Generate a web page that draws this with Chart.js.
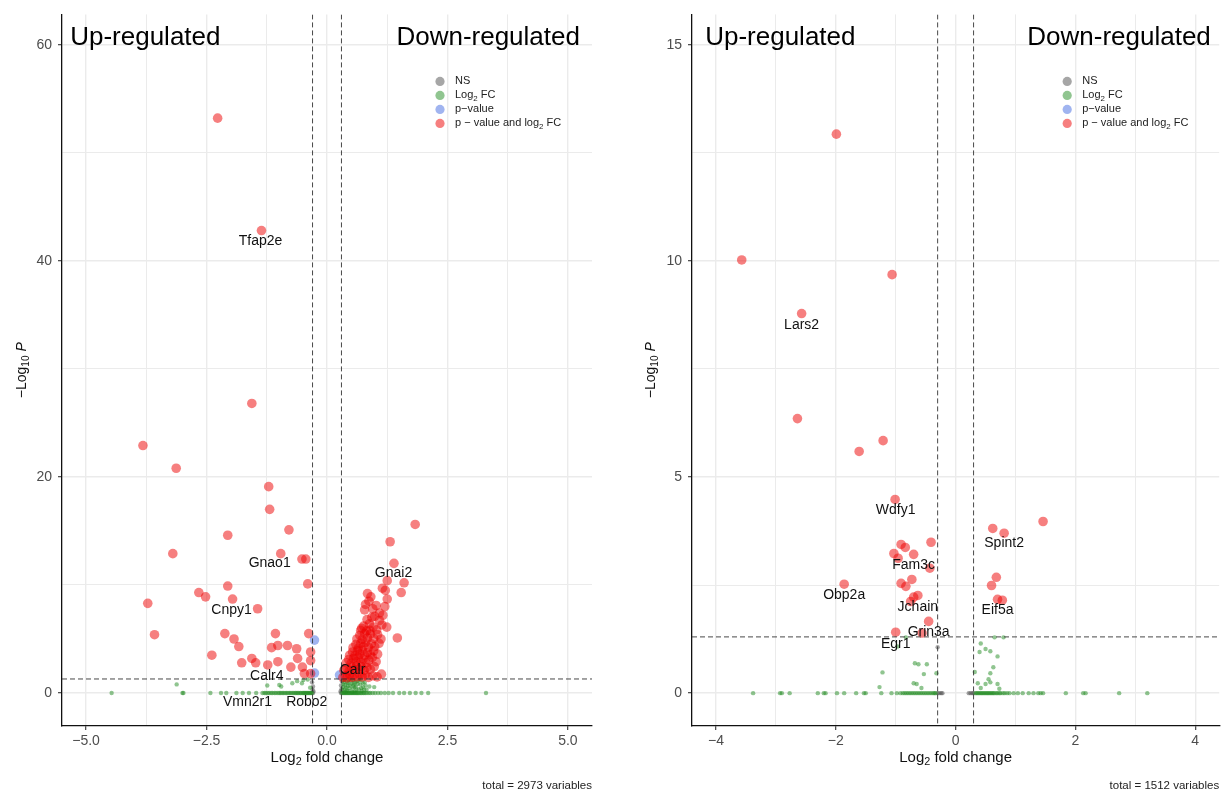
<!DOCTYPE html>
<html>
<head>
<meta charset="utf-8">
<title>Volcano plots</title>
<script src="https://cdn.jsdelivr.net/npm/chart.js@4.4.0/dist/chart.umd.min.js"></script>
<style>
  html, body { margin: 0; padding: 0; background: #fff; }
  #wrap { position: relative; width: 1224px; height: 792px; }
  canvas { position: absolute; top: 0; width: 612px; height: 792px; }
  #left { left: 0; }
  #right { left: 612px; }
</style>
</head>
<body>
<div id="wrap">
  <canvas id="left" width="612" height="792"></canvas>
  <canvas id="right" width="612" height="792"></canvas>
</div>
<script>
const FONT = '"Liberation Sans", Arial, Helvetica, sans-serif';

// EnhancedVolcano colours (grey30, forestgreen, royalblue, red2), alpha 0.5
const COLORS = {
    ns: 'rgba(77,77,77,0.5)',
    fc: 'rgba(34,139,34,0.5)',
    p: 'rgba(65,105,225,0.5)',
    both: 'rgba(238,0,0,0.5)'
};

// legend entries: plain strings or [text, 'sub']
const legendNames = [
    ['NS'],
    ['Log', ['2', 'sub'], ' FC'],
    ['p\u2212value'],
    ['p \u2212 value and log', ['2', 'sub'], ' FC']
];

// ---------- left panel: [log2 FC, -log10 P] ----------
const leftBoth = [
    [-2.27, 53.2], [-1.36, 42.8], [-1.56, 26.8], [-3.82, 22.9], [-3.13, 20.8], [-1.21, 19.1],
    [-1.19, 17.0], [-0.79, 15.1], [-2.06, 14.6], [-3.20, 12.9], [-0.96, 12.9], [-0.52, 12.4],
    [-0.44, 12.4], [-0.40, 10.1], [-2.66, 9.3], [-2.52, 8.9], [-2.06, 9.9], [-1.96, 8.7],
    [-3.72, 8.3], [-1.44, 7.8], [-3.58, 5.4], [-2.12, 5.5], [-1.93, 5.0], [-1.83, 4.3],
    [-2.39, 3.5], [-1.77, 2.8], [-1.56, 3.2], [-1.48, 2.8], [-1.23, 2.6], [-1.07, 5.5],
    [-1.15, 4.2], [-1.02, 4.4], [-0.82, 4.4], [-0.63, 4.1], [-0.38, 5.5], [-0.34, 3.8],
    [-0.61, 3.2], [-0.34, 3.0], [-0.51, 2.4], [-0.75, 2.4], [-1.02, 2.9], [-0.47, 1.8],
    [-0.34, 1.8],
    [1.83, 15.6], [1.31, 14.0], [1.39, 12.0], [1.25, 10.4], [1.60, 10.2], [1.15, 9.7],
    [1.21, 9.5], [1.25, 8.7], [1.54, 9.3], [0.84, 9.2], [0.91, 8.9], [0.80, 8.2], [0.95, 7.8],
    [0.78, 7.7], [1.09, 7.4], [1.16, 7.2], [0.93, 7.0], [1.09, 6.7], [1.24, 6.1], [0.72, 6.0],
    [0.89, 5.8], [1.46, 5.1], [1.13, 1.75],
    [0.33, 1.45], [0.38, 1.6], [0.42, 1.4], [0.47, 1.7], [0.52, 1.45], [0.57, 1.65], [0.62, 1.5],
    [0.68, 1.75], [0.73, 1.5], [0.79, 1.65], [0.86, 1.45], [0.95, 1.6], [1.04, 1.5],
    [0.35, 2.1], [0.41, 2.3], [0.46, 2.05], [0.51, 2.4], [0.56, 2.15], [0.61, 2.5], [0.66, 2.2],
    [0.71, 2.45], [0.77, 2.1], [0.83, 2.35], [0.90, 2.2], [0.98, 2.45],
    [0.40, 2.8], [0.45, 3.1], [0.50, 2.75], [0.55, 3.2], [0.60, 2.9], [0.65, 3.25], [0.70, 2.85],
    [0.75, 3.15], [0.81, 2.8], [0.87, 3.05], [0.94, 3.3], [1.02, 2.9],
    [0.47, 3.5], [0.53, 3.8], [0.58, 3.45], [0.63, 3.9], [0.68, 3.6], [0.73, 3.95], [0.78, 3.5],
    [0.84, 3.75], [0.90, 3.55], [0.97, 3.9], [1.05, 3.6],
    [0.54, 4.2], [0.60, 4.5], [0.65, 4.15], [0.70, 4.6], [0.75, 4.3], [0.80, 4.7], [0.86, 4.25],
    [0.92, 4.55], [0.99, 4.3], [1.08, 4.6],
    [0.62, 5.0], [0.68, 5.35], [0.73, 4.95], [0.78, 5.5], [0.84, 5.1], [0.90, 5.45], [0.97, 5.05],
    [1.05, 5.4], [1.12, 5.0],
    [0.70, 5.8], [0.76, 6.2], [0.82, 5.75], [0.88, 6.4], [0.96, 6.1], [1.03, 5.85], [1.14, 6.3],
    [0.83, 6.8], [0.99, 7.1], [1.02, 8.1], [1.20, 8.0], [0.87, 8.5]
];
const leftP = [[-0.26, 4.9], [-0.26, 1.85], [0.26, 1.66]];
const leftFC = [
    [-4.47, 0], [-3.00, 0], [-2.98, 0], [-2.42, 0], [-2.20, 0], [-2.09, 0], [-1.88, 0], [-1.75, 0],
    [-1.62, 0], [-1.47, 0], [-1.34, 0], [-1.30, 0], [-1.27, 0], [-1.23, 0], [-1.20, 0], [-1.16, 0],
    [-1.13, 0], [-1.09, 0], [-1.06, 0], [-1.02, 0], [-0.99, 0], [-0.96, 0], [-0.93, 0], [-0.90, 0],
    [-0.87, 0], [-0.84, 0], [-0.81, 0], [-0.78, 0], [-0.75, 0], [-0.72, 0], [-0.69, 0], [-0.66, 0],
    [-0.64, 0], [-0.61, 0], [-0.59, 0], [-0.56, 0], [-0.54, 0], [-0.51, 0], [-0.49, 0], [-0.47, 0],
    [-0.45, 0], [-0.43, 0], [-0.41, 0], [-0.39, 0], [-0.37, 0], [-0.35, 0], [-0.33, 0], [-0.31, 0],
    [0.31, 0], [0.33, 0], [0.35, 0], [0.37, 0], [0.39, 0], [0.41, 0], [0.43, 0], [0.45, 0],
    [0.47, 0], [0.49, 0], [0.51, 0], [0.53, 0], [0.55, 0], [0.57, 0], [0.59, 0], [0.61, 0],
    [0.63, 0], [0.65, 0], [0.67, 0], [0.70, 0], [0.72, 0], [0.75, 0], [0.77, 0], [0.80, 0],
    [0.83, 0], [0.87, 0], [0.90, 0], [0.95, 0], [1.00, 0], [1.06, 0], [1.12, 0], [1.20, 0],
    [1.28, 0], [1.37, 0], [1.50, 0], [1.60, 0], [1.72, 0], [1.84, 0], [1.96, 0], [2.10, 0],
    [3.30, 0],
    [-3.12, 0.8], [-1.24, 0.7], [-0.99, 0.75], [-0.95, 0.6], [-0.72, 0.9], [-0.62, 1.1],
    [-0.52, 0.9], [-0.49, 1.2], [-0.40, 1.25], [-0.35, 0.5],
    [0.32, 0.3], [0.34, 0.8], [0.36, 1.2], [0.40, 0.5], [0.42, 1.0], [0.45, 0.2], [0.48, 0.7],
    [0.50, 1.15], [0.53, 0.4], [0.56, 0.9], [0.58, 0.15], [0.60, 0.6], [0.63, 1.1], [0.66, 0.35],
    [0.69, 0.8], [0.72, 0.2], [0.75, 0.55], [0.78, 1.0], [0.82, 0.3], [0.88, 0.6], [0.98, 0.55],
    [0.45, 1.25], [0.38, 0.1], [0.52, 0.1], [0.70, 1.25],
    [0.33, 0.55], [0.35, 1.0], [0.38, 0.75], [0.41, 0.25], [0.44, 0.95], [0.47, 0.45], [0.51, 0.85],
    [0.54, 1.2], [0.57, 0.55], [0.61, 0.3], [0.64, 0.85], [0.67, 1.2], [0.71, 0.45], [0.74, 0.95],
    [0.77, 0.3], [0.80, 0.7], [0.43, 0.65], [0.59, 1.0], [0.37, 0.35], [0.55, 0.7]
];
const leftNS = [
    [-0.29, 0], [-0.30, 0.3], [-0.29, 0.6], [-0.31, 1.0], [-0.28, 0.15],
    [0.29, 0], [0.30, 0.35], [0.29, 0.7], [0.31, 1.1], [0.28, 0.15]
];
const leftGenes = ['Tfap2e', 'Gnao1', 'Cnpy1', 'Calr4', 'Vmn2r1', 'Robo2', 'Gnai2', 'Calr'];
const leftGeneX = [-1.38, -1.19, -1.98, -1.25, -1.65, -0.42, 1.38, 0.53];
const leftGeneY = [41.8, 12.0, 7.66, 1.57, -0.83, -0.83, 11.1, 2.12];
const leftXTicks = [-5, -3.75, -2.5, -1.25, 0, 1.25, 2.5, 3.75, 5];
const leftXMajor = [-5, -2.5, 0, 2.5, 5];
const leftXLabels = ['\u22125.0', '\u22122.5', '0.0', '2.5', '5.0'];
const leftYTicks = [0, 10, 20, 30, 40, 50, 60];
const leftYMajor = [0, 20, 40, 60];
const leftYLabels = ['0', '20', '40', '60'];

// ---------- right panel ----------
const rightBoth = [
    [-1.99, 12.93], [-3.57, 10.02], [-1.06, 9.68], [-2.57, 8.78], [-2.64, 6.35], [-1.21, 5.84],
    [-1.61, 5.59], [-1.01, 4.48], [1.46, 3.97], [0.62, 3.81], [0.81, 3.70], [-0.41, 3.49],
    [-0.91, 3.44], [-0.84, 3.37], [-1.03, 3.23], [-0.96, 3.12], [-0.70, 3.21], [-0.43, 2.89],
    [-1.86, 2.52], [-0.91, 2.54], [-0.83, 2.47], [-0.73, 2.63], [0.68, 2.68], [0.60, 2.49],
    [-0.70, 2.22], [-0.63, 2.26], [-0.75, 2.12], [0.70, 2.17], [0.78, 2.15], [-0.45, 1.66],
    [-1.00, 1.41], [-0.56, 1.39]
];
const rightP = [];
const rightFC = [
    [-3.38, 0], [-2.93, 0], [-2.90, 0], [-2.77, 0], [-2.30, 0], [-2.20, 0], [-2.17, 0], [-1.98, 0],
    [-1.86, 0], [-1.66, 0], [-1.53, 0], [-1.50, 0], [-1.24, 0], [-1.07, 0], [-0.98, 0], [-0.92, 0],
    [-0.88, 0], [-0.85, 0], [-0.82, 0], [-0.79, 0], [-0.76, 0], [-0.73, 0], [-0.70, 0], [-0.67, 0],
    [-0.64, 0], [-0.61, 0], [-0.58, 0], [-0.55, 0], [-0.52, 0], [-0.49, 0], [-0.46, 0], [-0.43, 0],
    [-0.40, 0], [-0.37, 0], [-0.35, 0], [-0.33, 0],
    [0.33, 0], [0.35, 0], [0.37, 0], [0.39, 0], [0.41, 0], [0.43, 0], [0.45, 0], [0.47, 0],
    [0.49, 0], [0.51, 0], [0.53, 0], [0.55, 0], [0.57, 0], [0.59, 0], [0.61, 0], [0.63, 0],
    [0.65, 0], [0.68, 0], [0.70, 0], [0.73, 0], [0.75, 0], [0.79, 0], [0.82, 0], [0.86, 0],
    [0.90, 0], [0.97, 0], [1.04, 0], [1.12, 0], [1.22, 0], [1.30, 0], [1.38, 0], [1.42, 0],
    [1.46, 0], [1.84, 0], [2.13, 0], [2.17, 0], [2.73, 0], [3.20, 0],
    [-0.83, 1.29], [-1.22, 0.48], [-1.27, 0.14], [-0.68, 0.69], [-0.62, 0.67], [-0.48, 0.67],
    [-0.53, 0.44], [-0.32, 0.46], [-0.65, 0.21], [-0.97, 1.08], [-0.70, 0.23], [-0.57, 0.12],
    [0.42, 1.15], [0.40, 0.95], [0.50, 1.02], [0.58, 0.97], [0.70, 0.85], [0.65, 1.29],
    [0.80, 1.29], [0.63, 0.60], [0.32, 0.49], [0.58, 0.46], [0.55, 0.32], [0.58, 0.25],
    [0.37, 0.23], [0.50, 0.21], [0.70, 0.21], [0.73, 0.10], [0.42, 0.12]
];
const rightNS = [
    [-0.30, 0], [-0.27, 0], [-0.24, 0], [-0.22, 0], [-0.30, 1.06],
    [0.22, 0], [0.25, 0], [0.28, 0], [0.30, 0]
];
const rightGenes = ['Lars2', 'Wdfy1', 'Spint2', 'Fam3c', 'Obp2a', 'Jchain', 'Eif5a', 'Grin3a', 'Egr1'];
const rightGeneX = [-2.57, -1.00, 0.81, -0.70, -1.86, -0.63, 0.70, -0.45, -1.00];
const rightGeneY = [8.52, 4.23, 3.46, 2.96, 2.26, 1.99, 1.92, 1.41, 1.13];
const rightXTicks = [-4, -3, -2, -1, 0, 1, 2, 3, 4];
const rightXMajor = [-4, -2, 0, 2, 4];
const rightXLabels = ['\u22124', '\u22122', '0', '2', '4'];
const rightYTicks = [0, 2.5, 5, 7.5, 10, 12.5, 15];
const rightYMajor = [0, 5, 10, 15];
const rightYLabels = ['0', '5', '10', '15'];

// draws text made of plain / subscript / italic pieces
function drawRich(ctx, parts, x, y, size, align) {
    const segs = parts.map(p => Array.isArray(p) ? { t: p[0], k: p[1] } : { t: p, k: '' });
    const fontFor = k => (k === 'it' ? 'italic ' : '') + (k === 'sub' ? size * 0.72 : size) + 'px ' + FONT;
    let w = 0;
    segs.forEach(s => { ctx.font = fontFor(s.k); s.w = ctx.measureText(s.t).width; w += s.w; });
    let cx = align === 'center' ? x - w / 2 : align === 'right' ? x - w : x;
    ctx.textAlign = 'left';
    ctx.textBaseline = 'middle';
    segs.forEach(s => {
        ctx.font = fontFor(s.k);
        ctx.fillText(s.t, cx, s.k === 'sub' ? y + size * 0.3 : y);
        cx += s.w;
    });
}

const volcanoPlugin = {
    id: 'volcano',
    afterDatasetsDraw(chart, args, o) {
        const { ctx, chartArea: a, scales: { x, y } } = chart;
        ctx.save();
        ctx.beginPath();
        ctx.rect(a.left, a.top, a.right - a.left, a.bottom - a.top);
        ctx.clip();
        // cut-off lines
        ctx.strokeStyle = '#333';
        ctx.lineWidth = 0.9;
        ctx.setLineDash([5, 3]);
        o.xCuts.forEach(v => {
            const px = x.getPixelForValue(v);
            ctx.beginPath(); ctx.moveTo(px, a.top); ctx.lineTo(px, a.bottom); ctx.stroke();
        });
        const py = y.getPixelForValue(o.yCut);
        ctx.beginPath(); ctx.moveTo(a.left, py); ctx.lineTo(a.right, py); ctx.stroke();
        ctx.restore();

        ctx.save();
        ctx.fillStyle = '#111';
        // gene labels
        ctx.font = '14px ' + FONT;
        ctx.textAlign = 'center';
        ctx.textBaseline = 'middle';
        o.genes.forEach((g, i) => ctx.fillText(g, x.getPixelForValue(o.geneX[i]), y.getPixelForValue(o.geneY[i])));
        // corner labels
        ctx.font = '26px ' + FONT;
        ctx.textBaseline = 'alphabetic';
        ctx.fillStyle = '#000';
        ctx.textAlign = 'left';
        ctx.fillText('Up-regulated', x.getPixelForValue(o.upX), y.getPixelForValue(o.sideY));
        ctx.textAlign = 'right';
        ctx.fillText('Down-regulated', x.getPixelForValue(o.downX), y.getPixelForValue(o.sideY));
        // legend
        const legendColors = [COLORS.ns, COLORS.fc, COLORS.p, COLORS.both];
        const lx = a.right - 152;
        legendNames.forEach((parts, i) => {
            const ly = a.top + 67 + i * 14;
            ctx.fillStyle = legendColors[i];
            ctx.beginPath(); ctx.arc(lx, ly, 4.6, 0, Math.PI * 2); ctx.fill();
            ctx.fillStyle = '#222';
            drawRich(ctx, parts, lx + 15, ly, 11, 'left');
        });
        ctx.restore();
    },
    afterDraw(chart, args, o) {
        const { ctx, chartArea: a } = chart;
        ctx.save();
        ctx.fillStyle = '#111';
        drawRich(ctx, ['Log', ['2', 'sub'], ' fold change'], (a.left + a.right) / 2, 758, 15, 'center');
        ctx.translate(o.yTitleX, (a.top + a.bottom) / 2);
        ctx.rotate(-Math.PI / 2);
        drawRich(ctx, ['\u2212Log', ['10', 'sub'], ' ', ['P', 'it']], 0, 0, 14, 'center');
        ctx.restore();
        ctx.save();
        ctx.fillStyle = '#222';
        drawRich(ctx, [o.caption], a.right, 786, 11.5, 'right');
        ctx.restore();
    }
};

function gridFor(majors) {
    const isMajor = c => c.tick && majors.includes(c.tick.value);
    return {
        color: '#EBEBEB',
        lineWidth: c => isMajor(c) ? 1.4 : 1.0,
        tickColor: c => isMajor(c) ? '#333' : 'rgba(0,0,0,0)',
        tickLength: 4,
        tickWidth: 1.1
    };
}

function tickLabel(majors, labels) {
    return value => {
        const i = majors.indexOf(value);
        return i >= 0 ? labels[i] : '';
    };
}

function makeVolcano(id, p) {
    const ds = (label, pts, color, r) => ({
        label,
        data: pts.map(([x, y]) => ({ x, y })),
        pointBackgroundColor: color,
        backgroundColor: color,
        pointBorderWidth: 0,
        pointRadius: r,
        pointHoverRadius: r
    });
    return new Chart(document.getElementById(id), {
        type: 'scatter',
        data: {
            datasets: [
                ds('p - value and log2 FC', p.both, COLORS.both, 4.8),
                ds('p-value', p.pv, COLORS.p, 4.8),
                ds('Log2 FC', p.fc, COLORS.fc, 2.2),
                ds('NS', p.ns, COLORS.ns, 2.2)
            ]
        },
        options: {
            responsive: false,
            animation: false,
            events: [],
            devicePixelRatio: 1,
            layout: { padding: { top: 13, right: p.padRight, left: 0, bottom: 0 } },
            plugins: {
                legend: { display: false },
                tooltip: { enabled: false },
                volcano: {
                    xCuts: [-0.3, 0.3], yCut: 1.301,
                    genes: p.genes, geneX: p.geneX, geneY: p.geneY,
                    upX: p.upX, downX: p.downX, sideY: p.sideY,
                    yTitleX: p.yTitleX, caption: p.caption
                }
            },
            scales: {
                x: {
                    type: 'linear', position: 'bottom', min: p.xMin, max: p.xMax,
                    afterBuildTicks: s => { s.ticks = p.xTicks.map(v => ({ value: v })); },
                    afterFit: s => { s.height = 66; },
                    grid: gridFor(p.xMajor),
                    border: { display: true, color: '#111', width: 1.3 },
                    ticks: {
                        autoSkip: false, maxRotation: 0, padding: 3,
                        color: '#4D4D4D', font: { size: 14, family: FONT },
                        callback: tickLabel(p.xMajor, p.xLabels)
                    }
                },
                y: {
                    type: 'linear', position: 'left', min: p.yMin, max: p.yMax,
                    afterBuildTicks: s => { s.ticks = p.yTicks.map(v => ({ value: v })); },
                    afterFit: s => { s.width = p.yAxisWidth; },
                    grid: gridFor(p.yMajor),
                    border: { display: true, color: '#111', width: 1.3 },
                    ticks: {
                        autoSkip: false, padding: 6,
                        color: '#4D4D4D', font: { size: 14, family: FONT },
                        callback: tickLabel(p.yMajor, p.yLabels)
                    }
                }
            }
        },
        plugins: [volcanoPlugin]
    });
}

Chart.defaults.font.family = FONT;

makeVolcano('left', {
    both: leftBoth, pv: leftP, fc: leftFC, ns: leftNS,
    genes: leftGenes, geneX: leftGeneX, geneY: leftGeneY,
    xMin: -5.5, xMax: 5.5, yMin: -3.05, yMax: 62.8,
    xTicks: leftXTicks, xMajor: leftXMajor, xLabels: leftXLabels,
    yTicks: leftYTicks, yMajor: leftYMajor, yLabels: leftYLabels,
    yAxisWidth: 62, padRight: 20, yTitleX: 22,
    upX: -5.33, downX: 5.25, sideY: 60,
    caption: 'total = 2973 variables'
});

makeVolcano('right', {
    both: rightBoth, pv: rightP, fc: rightFC, ns: rightNS,
    genes: rightGenes, geneX: rightGeneX, geneY: rightGeneY,
    xMin: -4.4, xMax: 4.4, yMin: -0.76, yMax: 15.7,
    xTicks: rightXTicks, xMajor: rightXMajor, xLabels: rightXLabels,
    yTicks: rightYTicks, yMajor: rightYMajor, yLabels: rightYLabels,
    yAxisWidth: 80, padRight: 1, yTitleX: 39,
    upX: -4.18, downX: 4.26, sideY: 15,
    caption: 'total = 1512 variables'
});
</script>
</body>
</html>
